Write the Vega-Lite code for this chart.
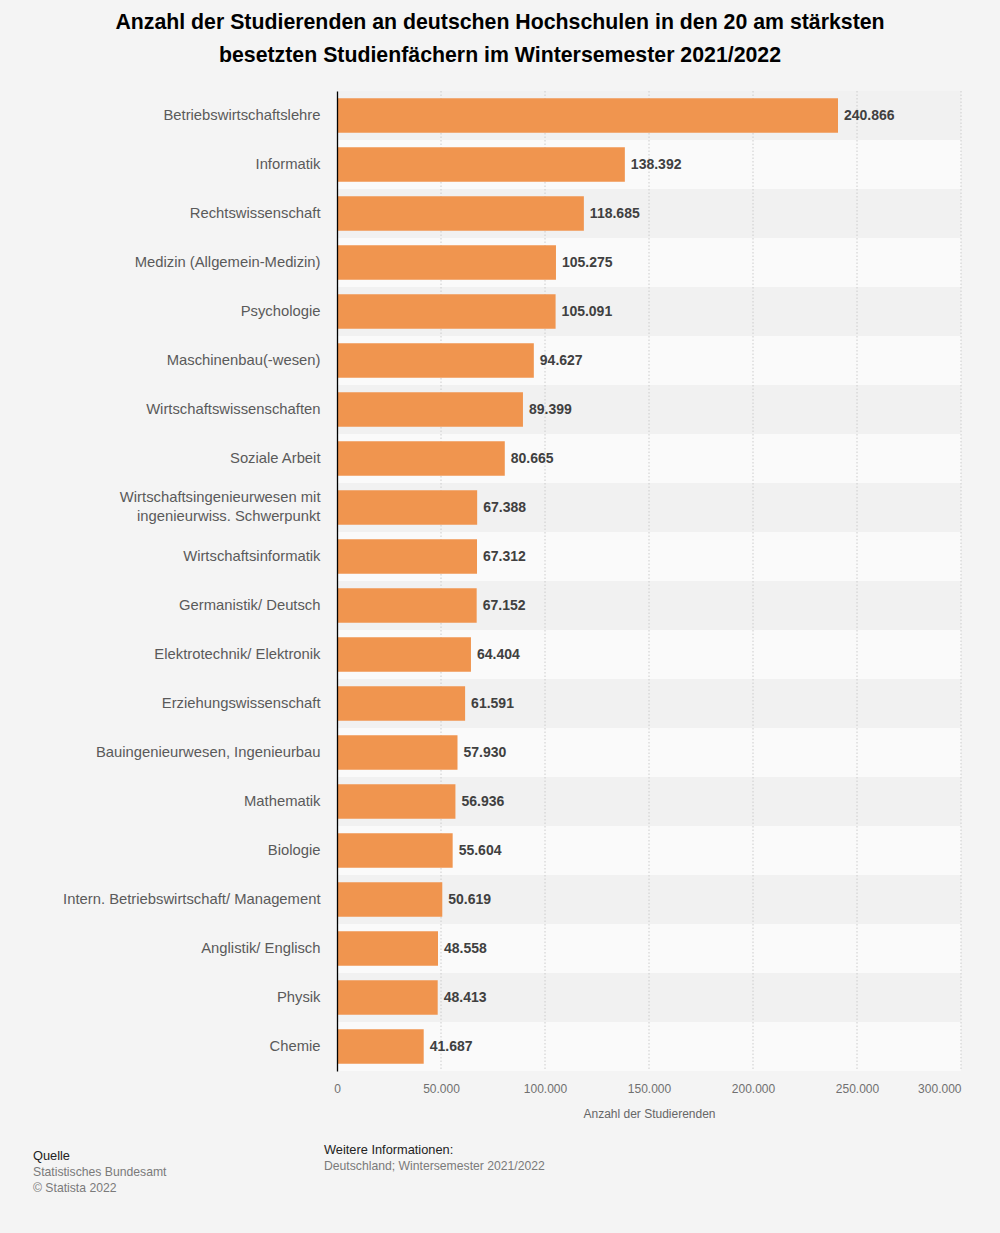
{
  "$schema": "https://vega.github.io/schema/vega-lite/v6.json",
  "width": 624,
  "height": 980,
  "autosize": {"type": "none"},
  "padding": {"left": 337, "top": 91, "right": 39, "bottom": 162},
  "background": "#f4f4f4",
  "title": {
    "text": ["Anzahl der Studierenden an deutschen Hochschulen in den 20 am stärksten", "besetzten Studienfächern im Wintersemester 2021/2022"],
    "anchor": "middle",
    "frame": "group",
    "dx": -149,
    "offset": 24,
    "font": "Liberation Sans",
    "fontSize": 21.3,
    "fontWeight": "bold",
    "lineHeight": 33,
    "color": "#000000"
  },
  "config": {
    "locale": {"number": {"decimal": ",", "thousands": ".", "grouping": [3], "currency": ["", " €"]}},
    "view": {"stroke": null},
    "font": "Liberation Sans"
  },
  "datasets": {
    "main": [
      {"fach": "Betriebswirtschaftslehre", "wert": 240866},
      {"fach": "Informatik", "wert": 138392},
      {"fach": "Rechtswissenschaft", "wert": 118685},
      {"fach": "Medizin (Allgemein-Medizin)", "wert": 105275},
      {"fach": "Psychologie", "wert": 105091},
      {"fach": "Maschinenbau(-wesen)", "wert": 94627},
      {"fach": "Wirtschaftswissenschaften", "wert": 89399},
      {"fach": "Soziale Arbeit", "wert": 80665},
      {"fach": "Wirtschaftsingenieurwesen mit ingenieurwiss. Schwerpunkt", "wert": 67388},
      {"fach": "Wirtschaftsinformatik", "wert": 67312},
      {"fach": "Germanistik/ Deutsch", "wert": 67152},
      {"fach": "Elektrotechnik/ Elektronik", "wert": 64404},
      {"fach": "Erziehungswissenschaft", "wert": 61591},
      {"fach": "Bauingenieurwesen, Ingenieurbau", "wert": 57930},
      {"fach": "Mathematik", "wert": 56936},
      {"fach": "Biologie", "wert": 55604},
      {"fach": "Intern. Betriebswirtschaft/ Management", "wert": 50619},
      {"fach": "Anglistik/ Englisch", "wert": 48558},
      {"fach": "Physik", "wert": 48413},
      {"fach": "Chemie", "wert": 41687}
    ],
    "raster": [
      {"wert": 50000}, {"wert": 100000}, {"wert": 150000}, {"wert": 200000}, {"wert": 250000}, {"wert": 300000}
    ]
  },
  "layer": [
    {
      "data": {"name": "main"},
      "transform": [
        {"window": [{"op": "row_number", "as": "rn"}]},
        {"calculate": "datum.rn % 2 === 1 ? 'a' : 'b'", "as": "streifen"}
      ],
      "mark": {"type": "bar", "strokeWidth": 0},
      "encoding": {
        "y": {"field": "fach", "type": "nominal", "sort": null,
              "scale": {"paddingInner": 0, "paddingOuter": 0},
              "axis": {
                "title": null, "ticks": false, "domain": true, "domainColor": "#000000", "domainWidth": 1.3,
                "labelFontSize": 14.8, "labelColor": "#5a5a5a", "labelPadding": 17, "labelLimit": 320,
                "labelLineHeight": 19,
                "labelOffset": {"condition": {"test": "datum.value == 'Wirtschaftsingenieurwesen mit ingenieurwiss. Schwerpunkt'", "value": -9.5}, "value": 0},
                "labelExpr": "datum.label == 'Wirtschaftsingenieurwesen mit ingenieurwiss. Schwerpunkt' ? ['Wirtschaftsingenieurwesen mit', 'ingenieurwiss. Schwerpunkt'] : datum.label",
                "zindex": 2
              }},
        "x": {"value": 0},
        "x2": {"value": "width"},
        "color": {"field": "streifen", "type": "nominal", "legend": null,
                  "scale": {"domain": ["a", "b"], "range": ["#f1f1f1", "#fafafa"]}}
      }
    },
    {
      "data": {"name": "raster"},
      "mark": {"type": "rule", "color": "#cccccc", "strokeDash": [1.5, 2], "strokeWidth": 1},
      "encoding": {
        "x": {"field": "wert", "type": "quantitative"}
      }
    },
    {
      "data": {"name": "main"},
      "mark": {"type": "bar", "color": "#f0954f", "height": {"band": 0.7}},
      "encoding": {
        "y": {"field": "fach", "type": "nominal", "sort": null},
        "x": {"field": "wert", "type": "quantitative",
              "scale": {"domain": [0, 300000], "nice": false},
              "axis": {
                "title": "Anzahl der Studierenden", "titleFontSize": 12, "titleFontWeight": "normal", "titleColor": "#666666", "titlePadding": 14,
                "format": ",d", "values": [0, 50000, 100000, 150000, 200000, 250000, 300000],
                "labelFontSize": 12, "labelColor": "#707070", "labelPadding": 12,
                "labelAlign": {"condition": {"test": "datum.value === 300000", "value": "right"}, "value": "center"},
                "ticks": false, "domain": false, "grid": false
              }}
      }
    },
    {
      "data": {"name": "main"},
      "mark": {"type": "text", "align": "left", "baseline": "middle", "dx": 6, "fontSize": 14, "fontWeight": "bold", "color": "#404040"},
      "encoding": {
        "y": {"field": "fach", "type": "nominal", "sort": null},
        "x": {"field": "wert", "type": "quantitative"},
        "text": {"field": "wert", "type": "quantitative", "format": ",d"}
      }
    },
    {
      "data": {"values": [{"t": "Quelle"}]},
      "mark": {"type": "text", "align": "left", "baseline": "middle", "fontSize": 12.8, "color": "#222222"},
      "encoding": {"x": {"value": -304}, "y": {"value": 1065}, "text": {"field": "t"}}
    },
    {
      "data": {"values": [{"t": "Statistisches Bundesamt\n© Statista 2022"}]},
      "mark": {"type": "text", "align": "left", "baseline": "middle", "fontSize": 12.2, "color": "#7a7a7a", "lineBreak": "\n", "lineHeight": 16},
      "encoding": {
        "x": {"value": -304},
        "y": {"value": 1081},
        "text": {"field": "t"}
      }
    },
    {
      "data": {"values": [{"t": "Weitere Informationen:"}]},
      "mark": {"type": "text", "align": "left", "baseline": "middle", "fontSize": 12.8, "color": "#222222"},
      "encoding": {"x": {"value": -13}, "y": {"value": 1059}, "text": {"field": "t"}}
    },
    {
      "data": {"values": [{"t": "Deutschland; Wintersemester 2021/2022"}]},
      "mark": {"type": "text", "align": "left", "baseline": "middle", "fontSize": 12.2, "color": "#7a7a7a"},
      "encoding": {"x": {"value": -13}, "y": {"value": 1075}, "text": {"field": "t"}}
    }
  ]
}
